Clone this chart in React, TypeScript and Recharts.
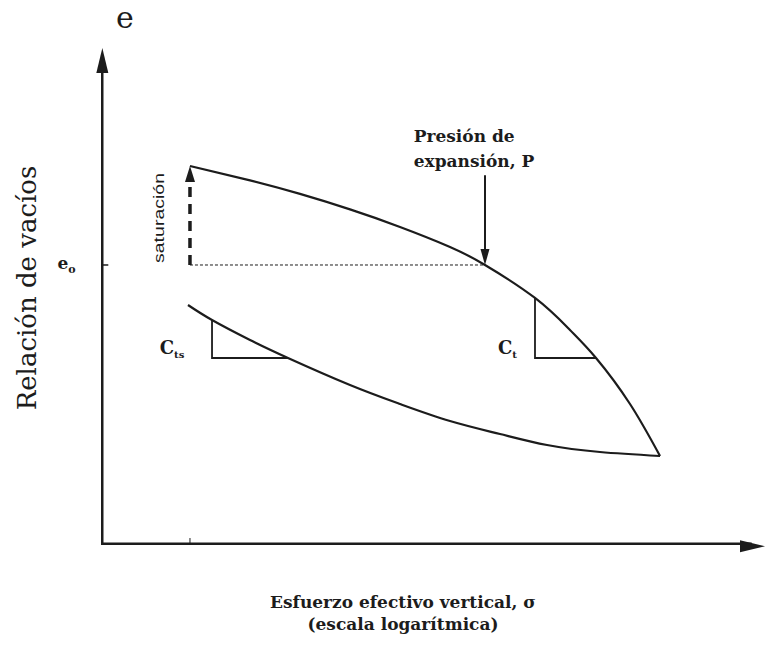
import { ComposedChart, Line, XAxis, YAxis, ReferenceDot } from 'recharts';

// x = position along log(sigma) axis, e = void ratio (schematic units 0-100)
const upperX = [13.4, 22.44, 29.97, 37.5, 45.03, 52.56, 57.83, 65.36, 70.63, 74.55, 79.67, 84.19];
const upperE = [76.26, 73.36, 70.64, 67.53, 64.0, 59.98, 56.34, 49.7, 43.26, 37.63, 28.37, 17.91];

const lowerX = [13.1, 16.72, 22.44, 28.16, 37.5, 45.03, 52.56, 60.09, 67.17, 75.15, 84.19];
const lowerE = [48.29, 45.27, 41.25, 37.63, 32.19, 28.37, 24.95, 22.33, 20.12, 18.71, 17.91];

const ctsX = [16.72, 16.72, 28.16];
const ctsE = [45.27, 37.63, 37.63];
const ctX = [65.36, 65.36, 74.55];
const ctE = [49.7, 37.63, 37.63];

const X_START = 13.4; // initial stress
const X_P = 57.83; // swelling pressure
const E0 = 56.34; // initial void ratio
const E_SAT = 76.26; // after saturation

const toRows = (xs: number[], es: number[]) => xs.map((x, i) => ({ x, e: es[i] }));

const upper = toRows(upperX, upperE);
const lower = toRows(lowerX, lowerE);
const cts = toRows(ctsX, ctsE);
const ct = toRows(ctX, ctE);
const satArrow = toRows([X_START, X_START], [E0, E_SAT - 3.4]);
const e0Line = toRows([X_START, X_P], [E0, E0]);
const pArrow = toRows([X_P, X_P], [74.4, E0 + 2]);
const yAxisLine = toRows([0, 0], [0, 97]);
const xAxisLine = toRows([0, 98], [0, 0]);
const e0Tick = toRows([0, 1.1], [E0, E0]);
const xTick = toRows([X_START, X_START], [0, 1.4]);

const INK = '#1c1c1c';
const serif = '"DejaVu Serif", "Liberation Serif", serif';

const arrowUp = (w: number, h: number) => (p: any) => (
  <polygon points={`${p.cx},${p.cy} ${p.cx - w / 2},${p.cy + h} ${p.cx + w / 2},${p.cy + h}`} fill={INK} />
);
const arrowDown = (w: number, h: number) => (p: any) => (
  <polygon points={`${p.cx},${p.cy} ${p.cx - w / 2},${p.cy - h} ${p.cx + w / 2},${p.cy - h}`} fill={INK} />
);
const arrowRight = (w: number, h: number) => (p: any) => (
  <polygon points={`${p.cx},${p.cy} ${p.cx - h},${p.cy - w / 2} ${p.cx - h},${p.cy + w / 2}`} fill={INK} />
);

const labelAt = (lines: string[], size: number) => (p: any) => (
  <text x={p.cx} y={p.cy} textAnchor="start" fontFamily={serif} fontSize={size} fontWeight={700} fill={INK}>
    {lines.map((s, i) => (
      <tspan key={i} x={p.cx} dy={i === 0 ? 0 : size * 1.45}>{s}</tspan>
    ))}
  </text>
);

const subLabel = (main: string, sub: string, size: number, subSize: number) => (p: any) => (
  <text x={p.cx} y={p.cy} textAnchor="middle" fontFamily={serif} fontSize={size} fontWeight={700} fill={INK}>
    {main}<tspan dy={4} fontSize={subSize}>{sub}</tspan>
  </text>
);

const satLabel = (p: any) => (
  <text
    x={p.cx}
    y={p.cy}
    transform={`rotate(-90 ${p.cx} ${p.cy})`}
    textAnchor="middle"
    fontFamily='"Liberation Sans", sans-serif'
    fontSize={15}
    textLength={90}
    lengthAdjust="spacingAndGlyphs"
    fill={INK}
  >
    saturación
  </text>
);

const seg = (data: any[], width: number, dash?: string, type: any = 'linear') => (
  <Line
    data={data}
    dataKey="e"
    type={type}
    stroke={INK}
    strokeWidth={width}
    strokeDasharray={dash}
    dot={false}
    activeDot={false}
    isAnimationActive={false}
  />
);

export default function App() {
  return (
    <div style={{ position: 'absolute', left: 0, top: 0, width: 768, height: 647, background: '#fff' }}>
      <ComposedChart width={768} height={647} margin={{ top: 48, right: 3, left: 101, bottom: 102 }}>
        <XAxis type="number" dataKey="x" domain={[0, 100]} hide allowDataOverflow />
        <YAxis type="number" dataKey="e" domain={[0, 100]} hide allowDataOverflow />

        {/* axis lines sit on the clip edge, so only half of the stroke shows */}
        {seg(yAxisLine, 5)}
        {seg(xAxisLine, 5)}
        {seg(e0Tick, 1.5)}
        {seg(xTick, 1)}

        {seg(upper, 2.2, undefined, 'natural')}
        {seg(lower, 2.2, undefined, 'natural')}
        {seg(cts, 1.8)}
        {seg(ct, 1.8)}
        {seg(satArrow, 3.5, '10 7')}
        {seg(e0Line, 1, '3 2')}
        {seg(pArrow, 2)}

        <ReferenceDot x={X_START} y={E_SAT} ifOverflow="visible" shape={arrowUp(10, 16)} />
        <ReferenceDot x={X_P} y={E0} ifOverflow="visible" shape={arrowDown(9, 16)} />
        <ReferenceDot x={0.2} y={100} ifOverflow="visible" shape={arrowUp(12, 25)} />
        <ReferenceDot x={100} y={-0.25} ifOverflow="visible" shape={arrowRight(12, 25)} />

        <ReferenceDot x={47.1} y={81.0} ifOverflow="visible" shape={labelAt(['Presión de', 'expansión, P'], 17)} />
        <ReferenceDot x={10.7} y={38.5} ifOverflow="visible" shape={subLabel('C', 'ts', 18, 10)} />
        <ReferenceDot x={61.2} y={38.5} ifOverflow="visible" shape={subLabel('C', 't', 18, 10)} />
        <ReferenceDot x={-5.2} y={E0 - 0.8} ifOverflow="visible" shape={subLabel('e', 'o', 17, 11)} />
        <ReferenceDot x={9.5} y={65.8} ifOverflow="visible" shape={satLabel} />
      </ComposedChart>

      <div style={{ position: 'absolute', left: 116, top: 0, fontFamily: serif, fontSize: 30, lineHeight: '36px', color: INK }}>e</div>
      <div
        style={{
          position: 'absolute',
          left: 27,
          top: 288,
          transform: 'translate(-50%, -50%) rotate(-90deg)',
          whiteSpace: 'nowrap',
          fontFamily: serif,
          fontSize: 26,
          color: INK,
        }}
      >
        Relación de vacíos
      </div>
      <div
        style={{
          position: 'absolute',
          left: 0,
          width: 806,
          top: 591,
          textAlign: 'center',
          fontFamily: serif,
          fontSize: 17,
          fontWeight: 700,
          lineHeight: '22px',
          color: INK,
        }}
      >
        Esfuerzo efectivo vertical, σ
        <br />
        (escala logarítmica)
      </div>
    </div>
  );
}
